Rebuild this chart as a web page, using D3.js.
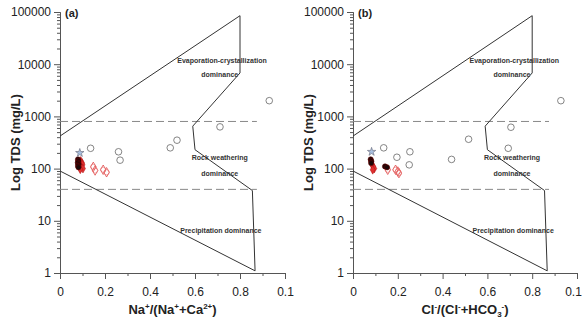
<!DOCTYPE html>
<html>
<head>
<meta charset="utf-8">
<script src="https://cdn.jsdelivr.net/npm/d3@7"></script>
<style>
  body { margin: 0; background: #fff; }
  svg { font-family: "Liberation Sans", Arial, sans-serif; }
</style>
</head>
<body>
<div id="chart"></div>
<script>
const width = 582;
const height = 320;

// Gibbs boundary (same in both panels)
const boundaryX = [0, 0.8, 0.8, 0.59, 0.6, 0.855, 0.867, 0];
const boundaryY = [420, 85000, 6800, 650, 230, 38, 1.1, 90];
const dashLevels = [800, 40];

const xTicks = [0, 0.2, 0.4, 0.6, 0.8, 1.0];
const xTickLabels = ["0", "0.2", "0.4", "0.6", "0.8", "0.1"]; // as printed in the figure
const xMinor = [0.1, 0.3, 0.5, 0.7, 0.9];
const yTicks = [1, 10, 100, 1000, 10000, 100000];

// panel (a): Na/(Na+Ca)
const aOpenX = [0.136, 0.26, 0.267, 0.49, 0.52, 0.711, 0.93];
const aOpenY = [245, 210, 145, 250, 350, 630, 2000];
const aStarX = [0.088];
const aStarY = [200];
const aBlackX = [0.08, 0.082, 0.079, 0.083, 0.08, 0.082];
const aBlackY = [150, 140, 130, 121, 113, 106];
const aRedX = [0.092, 0.098, 0.1, 0.094, 0.102, 0.09];
const aRedY = [140, 128, 118, 108, 100, 97];
const aDiamX = [0.148, 0.156, 0.192, 0.207];
const aDiamY = [108, 92, 95, 85];

// panel (b): Cl/(Cl+HCO3)
const bOpenX = [0.137, 0.196, 0.254, 0.251, 0.44, 0.516, 0.693, 0.705, 0.928];
const bOpenY = [250, 165, 210, 118, 150, 365, 245, 620, 2000];
const bStarX = [0.083];
const bStarY = [210];
const bBlackX = [0.079, 0.082, 0.081, 0.143, 0.152];
const bBlackY = [150, 138, 128, 110, 106];
const bRedX = [0.085, 0.09, 0.095, 0.088];
const bRedY = [120, 110, 100, 95];
const bDiamX = [0.155, 0.19, 0.2, 0.205];
const bDiamY = [95, 95, 88, 82];

const zip = (xs, ys) => xs.map((x, i) => [x, ys[i]]);

const svg = d3.select("#chart").append("svg")
  .attr("width", width)
  .attr("height", height);

function drawPanel(left, right, tag, xTitle, d, lastShift) {
  const top = 12, bottom = 273;
  const x = d3.scaleLinear().domain([0, 1]).range([left, right]);
  const y = d3.scaleLog().domain([1, 100000]).range([bottom, top]);
  const g = svg.append("g");

  // y axis
  const yMinor = [];
  for (let e = 0; e < 5; e++) for (let k = 2; k < 10; k++) yMinor.push(k * Math.pow(10, e));
  g.append("g").attr("transform", `translate(${left},0)`)
    .call(d3.axisLeft(y).tickValues(yMinor).tickSize(3).tickFormat(""));
  g.append("g").attr("transform", `translate(${left},0)`)
    .call(d3.axisLeft(y).tickValues(yTicks).tickSize(6).tickSizeOuter(0).tickFormat(d3.format("d")))
    .call(a => a.selectAll("text").attr("font-size", 12).attr("fill", "#222"));

  // x axis
  g.append("g").attr("transform", `translate(0,${bottom})`)
    .call(d3.axisBottom(x).tickValues(xMinor).tickSize(3).tickFormat(""));
  g.append("g").attr("transform", `translate(0,${bottom})`)
    .call(d3.axisBottom(x).tickValues(xTicks).tickSize(6).tickSizeOuter(0)
      .tickFormat((v, i) => xTickLabels[i]))
    .call(a => a.selectAll("text").attr("font-size", 12).attr("fill", "#222").attr("dy", "1.2em")
      .attr("dx", (v, i) => i === xTicks.length - 1 ? -lastShift : 0));

  g.selectAll(".domain, .tick line").attr("stroke", "#555");

  // dashed levels
  g.selectAll(".lvl").data(dashLevels).enter().append("line")
    .attr("x1", x(0)).attr("x2", x(0.875))
    .attr("y1", v => y(v)).attr("y2", v => y(v))
    .attr("stroke", "#888").attr("stroke-dasharray", "8,4").attr("stroke-width", 1);

  // boundary
  const line = d3.line().x(p => x(p[0])).y(p => y(p[1]));
  g.append("path").datum(zip(boundaryX, boundaryY))
    .attr("d", line).attr("fill", "none").attr("stroke", "#333").attr("stroke-width", 1);

  // region labels
  const labels = [
    ["Evaporation-crystallization", 0.72, 11500],
    ["dominance", 0.71, 6200],
    ["Rock weathering", 0.71, 160],
    ["dominance", 0.71, 82],
    ["Precipitation dominance", 0.715, 6.6]
  ];
  g.selectAll(".reg").data(labels).enter().append("text")
    .attr("x", l => x(l[1])).attr("y", l => y(l[2]))
    .attr("dy", "0.35em").attr("text-anchor", "middle")
    .attr("font-size", 7).attr("font-weight", "bold").attr("fill", "#333")
    .text(l => l[0]);

  // points
  g.selectAll(".open").data(d.open).enter().append("circle")
    .attr("cx", p => x(p[0])).attr("cy", p => y(p[1])).attr("r", 3.3)
    .attr("fill", "none").attr("stroke", "#666").attr("stroke-width", 0.8);

  const sym = (type, size) => d3.symbol().type(type).size(size);
  g.selectAll(".diam").data(d.diam).enter().append("path")
    .attr("transform", p => `translate(${x(p[0])},${y(p[1])})`)
    .attr("d", sym(d3.symbolDiamond, 26))
    .attr("fill", "none").attr("stroke", "#e04848").attr("stroke-width", 0.8);
  g.selectAll(".diamc").data(d.diam).enter().append("circle")
    .attr("cx", p => x(p[0])).attr("cy", p => y(p[1])).attr("r", 2.6)
    .attr("fill", "none").attr("stroke", "#e87070").attr("stroke-width", 0.6);
  g.selectAll(".red").data(d.red).enter().append("path")
    .attr("transform", p => `translate(${x(p[0])},${y(p[1])})`)
    .attr("d", sym(d3.symbolDiamond, 22))
    .attr("fill", "#e03030").attr("stroke", "#b01010").attr("stroke-width", 0.5);
  g.selectAll(".black").data(d.black).enter().append("circle")
    .attr("cx", p => x(p[0])).attr("cy", p => y(p[1])).attr("r", 2.6)
    .attr("fill", "#1c0808").attr("stroke", "#600").attr("stroke-width", 0.6);
  g.selectAll(".star").data(d.star).enter().append("path")
    .attr("transform", p => `translate(${x(p[0])},${y(p[1])})`)
    .attr("d", sym(d3.symbolStar, 22))
    .attr("fill", "#a8c0e0").attr("stroke", "#667").attr("stroke-width", 0.6);

  // panel tag
  g.append("text").attr("x", left + 5).attr("y", 17)
    .attr("font-size", 11).attr("font-weight", "bold").attr("fill", "#222").text(tag);

  // axis titles
  g.append("text")
    .attr("transform", `translate(${left - 45},${(top + bottom) / 2}) rotate(-90)`)
    .attr("text-anchor", "middle").attr("dy", "0.35em")
    .attr("font-size", 13).attr("font-weight", "bold").attr("fill", "#222")
    .text("Log TDS (mg/L)");

  const xt = g.append("text")
    .attr("x", (left + right) / 2).attr("y", 314)
    .attr("text-anchor", "middle")
    .attr("font-size", 13).attr("font-weight", "bold").attr("fill", "#222");
  // each part: [text, dy, size]
  xTitle.forEach(part => {
    const ts = xt.append("tspan").text(part[0]).attr("dy", part[1]);
    if (part[2]) ts.attr("font-size", part[2]);
  });
}

drawPanel(60, 285, "(a)", [
  ["Na", 0], ["+", -5, 8], ["/(Na", 5], ["+", -5, 8], ["+Ca", 5], ["2+", -5, 8], [")", 5]
], {
  open: zip(aOpenX, aOpenY), star: zip(aStarX, aStarY), black: zip(aBlackX, aBlackY),
  red: zip(aRedX, aRedY), diam: zip(aDiamX, aDiamY)
}, 0);

drawPanel(353, 577, "(b)", [
  ["Cl", 0], ["-", -5, 8], ["/(Cl", 5], ["-", -5, 8], ["+HCO", 5], ["3", 3, 8], ["-", -8, 8], [")", 5]
], {
  open: zip(bOpenX, bOpenY), star: zip(bStarX, bStarY), black: zip(bBlackX, bBlackY),
  red: zip(bRedX, bRedY), diam: zip(bDiamX, bDiamY)
}, 4);
</script>
</body>
</html>
